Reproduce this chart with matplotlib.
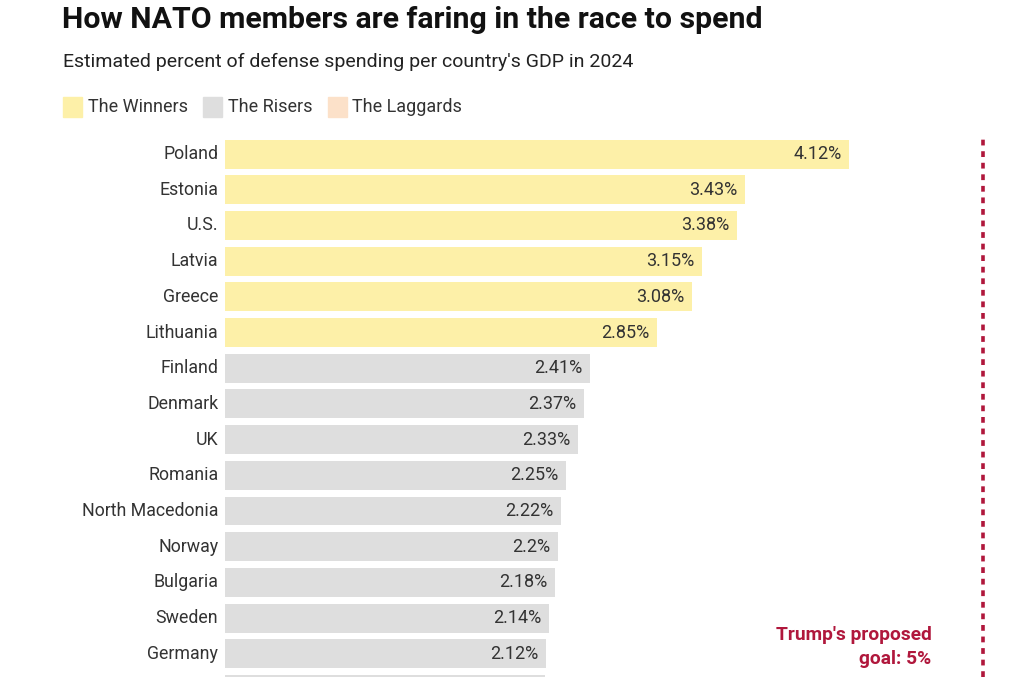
import matplotlib.pyplot as plt
import matplotlib.patches as mpatches

# Data (2024 estimates, % of GDP)
countries = ['Poland', 'Estonia', 'U.S.', 'Latvia', 'Greece', 'Lithuania',
             'Finland', 'Denmark', 'UK', 'Romania', 'North Macedonia',
             'Norway', 'Bulgaria', 'Sweden', 'Germany', 'Hungary']
values = [4.12, 3.43, 3.38, 3.15, 3.08, 2.85,
          2.41, 2.37, 2.33, 2.25, 2.22,
          2.2, 2.18, 2.14, 2.12, 2.11]
groups = ['winner'] * 6 + ['riser'] * 10
goal = 5

group_colors = {
    'winner': '#FDF0A8',
    'riser': '#DEDEDE',
    'laggard': '#FCE1C9',
}
legend_labels = [('winner', 'The Winners'), ('riser', 'The Risers'), ('laggard', 'The Laggards')]
red = '#B0173C'
text_color = '#333333'

plt.rcParams['font.family'] = ['Roboto', 'DejaVu Sans']

W, H = 1024, 677
fig = plt.figure(figsize=(W / 100, H / 100), dpi=100)


def fx(px):
    return px / W


def fy(py):
    return 1 - py / H


# Axes: x=0 at px 225, 151.5 px per percentage point
px_per_unit = 151.5
ax_left, ax_right = 225, 1010
ax_top = 136.2
y_bottom = (H - 154) / 35.7
ax = fig.add_axes([fx(ax_left), 0, (ax_right - ax_left) / W, (H - ax_top) / H])
ax.set_xlim(0, (ax_right - ax_left) / px_per_unit)
ax.set_ylim(y_bottom, -0.5)

ypos = list(range(len(countries)))
colors = [group_colors[g] for g in groups]
ax.barh(ypos, values, height=0.81, color=colors, edgecolor='none')

for y, v, name in zip(ypos, values, countries):
    if y > y_bottom - 0.3:
        # the chart is cut off below this row
        continue
    label = f"{v:g}%" if round(v, 1) == v else f"{v:.2f}%"
    ax.text(v - 0.05, y, label, ha='right', va='center', fontsize=13, color=text_color)
    ax.text(-0.045, y, name, ha='right', va='center', fontsize=12.8, color=text_color,
            clip_on=False)

# Trump's proposed goal
ax.axvline(goal, ymin=0, ymax=1, color=red, linewidth=2.6, linestyle=(0, (1.6, 1.6)))
ax.text(goal - 0.335, 14.4, "Trump's proposed\ngoal: 5%", ha='right', va='bottom',
        fontsize=13.8, fontweight='bold', color=red, linespacing=1.45)

ax.axis('off')

# Titles
fig.text(fx(62), fy(6), 'How NATO members are faring in the race to spend',
         fontsize=21.8, fontweight='bold', color='#111111', va='top', ha='left')
fig.text(fx(63), fy(53), "Estimated percent of defense spending per country's GDP in 2024",
         fontsize=14, color='#222222', va='top', ha='left')

# Legend
lx = 63
for key, label in legend_labels:
    fig.patches.append(mpatches.Rectangle((fx(lx), fy(117)), fx(19), 20 / H,
                                          transform=fig.transFigure,
                                          color=group_colors[key]))
    t = fig.text(fx(lx + 25), fy(107), label, fontsize=13, color=text_color,
                 va='center', ha='left')
    fig.canvas.draw()
    bb = t.get_window_extent()
    lx = bb.x1 + 15

fig.savefig('out.png', dpi=100)
